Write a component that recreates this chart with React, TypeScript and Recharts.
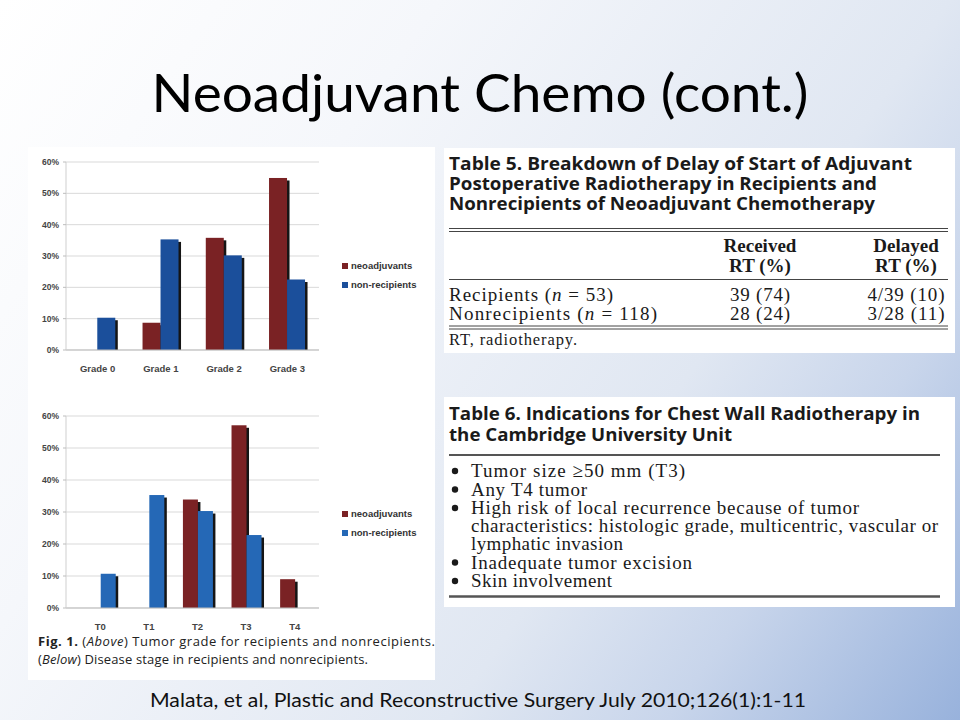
import React from "react";
import { BarChart, Bar, XAxis, YAxis, CartesianGrid, Legend } from "recharts";

// tumour grade (top chart), percent of patients
const gradeLabels = ["Grade 0", "Grade 1", "Grade 2", "Grade 3"];
const gradeNeoadjuvants = [0, 8.7, 35.8, 54.9];
const gradeNonRecipients = [10.3, 35.3, 30.2, 22.5];

// disease stage (bottom chart), percent of patients
const stageLabels = ["T0", "T1", "T2", "T3", "T4"];
const stageNeoadjuvants = [0, 0, 33.9, 57.1, 9.0];
const stageNonRecipients = [10.7, 35.3, 30.3, 22.8, 0];

const percentTicks = [0, 10, 20, 30, 40, 50, 60];

const table5Title = [
  "Table 5.  Breakdown of Delay of Start of Adjuvant",
  "Postoperative Radiotherapy in Recipients and",
  "Nonrecipients of Neoadjuvant Chemotherapy",
];
const table5Rows = [
  { group: "Recipients", n: "53", received: "39 (74)", delayed: "4/39 (10)" },
  { group: "Nonrecipients", n: "118", received: "28 (24)", delayed: "3/28 (11)" },
];

const table6Title = [
  "Table 6.  Indications for Chest Wall Radiotherapy in",
  "the Cambridge University Unit",
];
const table6Items = [
  ["Tumor size \u226550 mm (T3)"],
  ["Any T4 tumor"],
  [
    "High risk of local recurrence because of tumor",
    "characteristics: histologic grade, multicentric, vascular or",
    "lymphatic invasion",
  ],
  ["Inadequate tumor excision"],
  ["Skin involvement"],
];
// measured line widths in the reference, in the same order as the lines above
const table6Widths = [[214], [116], [388, 467, 152], [221], [141]];

const gradeData = gradeLabels.map((label, i) => ({
  label,
  neo: gradeNeoadjuvants[i],
  non: gradeNonRecipients[i],
}));
const stageData = stageLabels.map((label, i) => ({
  label,
  neo: stageNeoadjuvants[i],
  non: stageNonRecipients[i],
}));

const AXIS_FONT = "Liberation Sans, Arial, sans-serif";
const SERIF = "Liberation Serif, Times New Roman, serif";
const SANS_BOLD = "Open Sans, Liberation Sans, sans-serif";

// bar with the dark drop shadow on its right side
const ShadowBar = (props: any) => {
  const { x, y, width, height, fill } = props;
  if (!height || height <= 0) return <g />;
  return (
    <g>
      <rect x={x + 2.5} y={y + 2.5} width={width} height={height - 2.5} fill="#151515" />
      <rect x={x} y={y} width={width} height={height} fill={fill} />
    </g>
  );
};

const renderLegend = (props: any) => {
  const { payload } = props;
  return (
    <div
      style={{
        fontFamily: AXIS_FONT,
        fontWeight: 700,
        fontSize: 9.5,
        color: "#333",
      }}
    >
      {(payload || []).map((entry: any) => (
        <div
          key={entry.value}
          style={{ display: "flex", alignItems: "center", height: 19 }}
        >
          <span
            style={{
              display: "inline-block",
              width: 6,
              height: 6,
              background: entry.color,
              marginRight: 3,
            }}
          />
          <span>{entry.value}</span>
        </div>
      ))}
    </div>
  );
};

function GroupedChart({
  data,
  top,
  marginTop,
  xHeight,
  blue,
  padLeft,
  gap,
  legendTop,
}: {
  data: Array<{ label: string; neo: number; non: number }>;
  top: number;
  marginTop: number;
  xHeight: number;
  blue: string;
  padLeft: number;
  gap: string;
  legendTop: number;
}) {
  return (
    <div style={{ position: "absolute", left: 26, top }}>
      <BarChart
        width={410}
        height={240}
        data={data}
        margin={{ top: marginTop, right: 117, left: 0, bottom: 0 }}
        barCategoryGap={gap}
        barGap={0}
      >
        <CartesianGrid vertical={false} stroke="#d9d9d9" />
        <XAxis
          dataKey="label"
          height={xHeight}
          tickLine={false}
          tickSize={4}
          tickMargin={11}
          axisLine={{ stroke: "#bdbdbd" }}
          padding={{ left: padLeft, right: 0 }}
          tick={{ fontFamily: AXIS_FONT, fontSize: 9.5, fontWeight: 700, fill: "#444" }}
        />
        <YAxis
          width={40}
          domain={[0, 60]}
          ticks={percentTicks}
          interval={0}
          tickFormatter={(v: number) => `${v}%`}
          tickSize={3}
          tickMargin={4}
          tickLine={{ stroke: "#bdbdbd" }}
          axisLine={{ stroke: "#cfcfcf" }}
          tick={{ fontFamily: AXIS_FONT, fontSize: 8.5, fontWeight: 700, fill: "#444" }}
        />
        <Legend
          layout="vertical"
          align="center"
          verticalAlign="middle"
          content={renderLegend}
          wrapperStyle={{ left: 316, top: legendTop, width: 100 }}
        />
        <Bar
          dataKey="neo"
          name="neoadjuvants"
          fill="#7a2224"
          shape={ShadowBar}
          isAnimationActive={false}
        />
        <Bar
          dataKey="non"
          name="non-recipients"
          fill={blue}
          shape={ShadowBar}
          isAnimationActive={false}
        />
      </BarChart>
    </div>
  );
}

export default function App() {
  const ink = "#1a1a1a";
  let bulletY = 477;
  return (
    <div
      style={{
        position: "absolute",
        left: 0,
        top: 0,
        width: 960,
        height: 720,
        overflow: "hidden",
        background:
          "linear-gradient(125deg, #ffffff 0%, #f5f7fb 30%, #e0e7f2 65%, #c8d5eb 80%, #98b2dc 100%)",
      }}
    >
      {/* white panel behind the figure */}
      <div
        style={{
          position: "absolute",
          left: 28,
          top: 147,
          width: 407,
          height: 533,
          background: "#fff",
        }}
      />
      <GroupedChart
        data={gradeData}
        top={148}
        marginTop={14}
        xHeight={38}
        blue="#1b4f9b"
        padLeft={0}
        gap="21%"
        legendTop={108}
      />
      <GroupedChart
        data={stageData}
        top={395}
        marginTop={21}
        xHeight={27}
        blue="#2568b6"
        padLeft={10}
        gap="20%"
        legendTop={109}
      />

      <svg
        width={960}
        height={720}
        style={{ position: "absolute", left: 0, top: 0, pointerEvents: "none" }}
      >
        {/* slide title */}
        <text
          x={480}
          y={112}
          textAnchor="middle"
          fontFamily="Lato, Open Sans, sans-serif"
          fontSize={53}
          fill="#000"
          textLength={657}
          lengthAdjust="spacingAndGlyphs"
        >
          Neoadjuvant Chemo (cont.)
        </text>

        {/* figure caption */}
        <text x={38} y={646} fontFamily={SANS_BOLD} fontSize={13} fill="#222" textLength={397}>
          <tspan fontWeight={700}>Fig. 1.</tspan>
          <tspan>{"  ("}</tspan>
          <tspan fontStyle="italic">Above</tspan>
          <tspan>) Tumor grade for recipients and nonrecipients.</tspan>
        </text>
        <text x={38} y={664} fontFamily={SANS_BOLD} fontSize={13} fill="#222" textLength={330}>
          <tspan>(</tspan>
          <tspan fontStyle="italic">Below</tspan>
          <tspan>) Disease stage in recipients and nonrecipients.</tspan>
        </text>

        {/* Table 5 */}
        <rect x={444} y={148} width={511} height={205} fill="#fff" />
        {table5Title.map((line, i) => (
          <text
            key={line}
            x={449}
            y={170 + i * 20}
            fontFamily={SANS_BOLD}
            fontWeight={700}
            fontSize={17.5}
            fill={ink}
            textLength={[463, 428, 426][i]}
            lengthAdjust="spacingAndGlyphs"
          >
            {line}
          </text>
        ))}
        <line x1={449} x2={948} y1={228.5} y2={228.5} stroke="#444" strokeWidth={1} />
        <line x1={449} x2={948} y1={231.5} y2={231.5} stroke="#444" strokeWidth={1} />
        <g fontFamily={SERIF} fontWeight={700} fontSize={19} fill={ink} textAnchor="middle">
          <text x={760} y={252}>Received</text>
          <text x={760} y={272}>RT (%)</text>
          <text x={906} y={252}>Delayed</text>
          <text x={906} y={272}>RT (%)</text>
        </g>
        <line x1={449} x2={948} y1={279.5} y2={279.5} stroke="#444" strokeWidth={1.2} />
        {table5Rows.map((row, i) => (
          <g key={row.group} fontFamily={SERIF} fontSize={19} fill={ink}>
            <text x={449} y={301 + i * 19} textLength={[164, 208][i]}>
              {row.group} (<tspan fontStyle="italic">n</tspan> = {row.n})
            </text>
            <text x={760} y={301 + i * 19} textAnchor="middle" textLength={60}>
              {row.received}
            </text>
            <text x={906} y={301 + i * 19} textAnchor="middle" textLength={77}>
              {row.delayed}
            </text>
          </g>
        ))}
        <line x1={449} x2={948} y1={326} y2={326} stroke="#444" strokeWidth={1} />
        <line x1={449} x2={948} y1={329} y2={329} stroke="#444" strokeWidth={1} />
        <text x={449} y={345} fontFamily={SERIF} fontSize={16.5} fill={ink} textLength={128}>
          RT, radiotherapy.
        </text>

        {/* Table 6 */}
        <rect x={444} y={397} width={511} height={210} fill="#fff" />
        {table6Title.map((line, i) => (
          <text
            key={line}
            x={449}
            y={420 + i * 20.5}
            fontFamily={SANS_BOLD}
            fontWeight={700}
            fontSize={17.5}
            fill={ink}
            textLength={[471, 283][i]}
            lengthAdjust="spacingAndGlyphs"
          >
            {line}
          </text>
        ))}
        <line x1={449} x2={940} y1={455} y2={455} stroke="#555" strokeWidth={2} />
        {table6Items.map((lines, i) => {
          const startY = bulletY;
          bulletY += lines.length * 18 + 0.5;
          return (
            <g key={i} fontFamily={SERIF} fontSize={19} fill={ink}>
              <circle cx={455} cy={startY - 6} r={3.2} fill={ink} />
              {lines.map((ln, j) => (
                <text key={ln} x={471} y={startY + j * 18} textLength={table6Widths[i][j]}>
                  {ln}
                </text>
              ))}
            </g>
          );
        })}
        <line x1={449} x2={940} y1={596.5} y2={596.5} stroke="#555" strokeWidth={2.5} />

        {/* citation */}
        <text
          x={478}
          y={707}
          textAnchor="middle"
          fontFamily="Lato, Open Sans, sans-serif"
          fontSize={19.5}
          fill="#111"
          textLength={656}
          lengthAdjust="spacingAndGlyphs"
        >
          Malata, et al, Plastic and Reconstructive Surgery July 2010;126(1):1-11
        </text>
      </svg>
    </div>
  );
}
